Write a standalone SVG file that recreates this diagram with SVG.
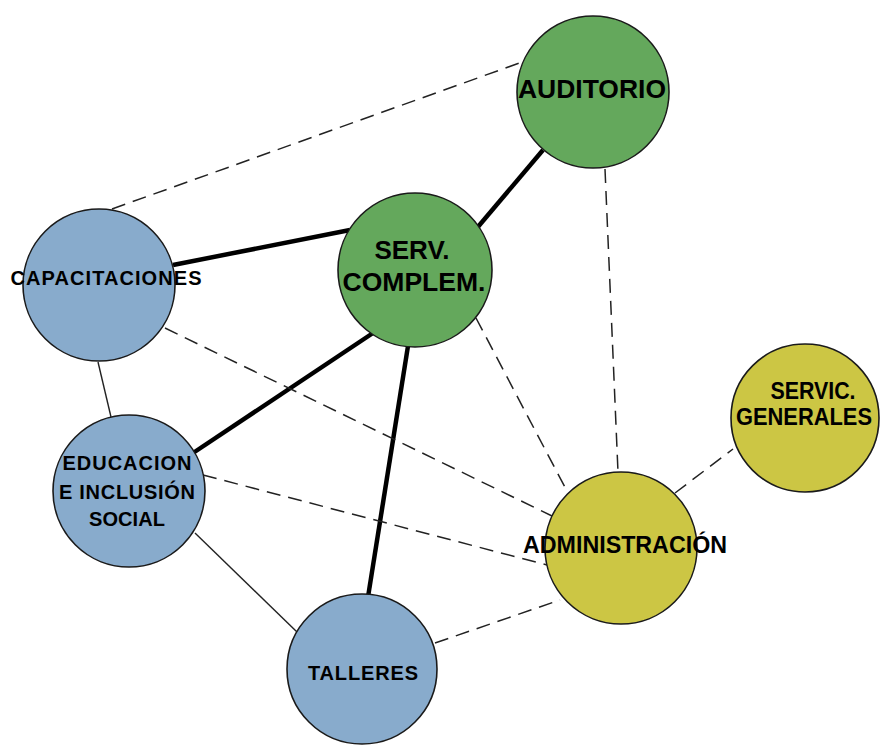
<svg xmlns="http://www.w3.org/2000/svg" width="881" height="745" viewBox="0 0 881 745">
<style>
.bg{fill:#ffffff}
.node{stroke:#1a1a1a;stroke-width:1.6}
.green{fill:#64A85C}
.blue{fill:#88ABCC}
.yellow{fill:#CCC644}
.thick{stroke:#000;stroke-width:4.5;fill:none}
.thin{stroke:#222;stroke-width:1.4;fill:none}
.dash{stroke:#222;stroke-width:1.5;fill:none;stroke-dasharray:14 8}
.lbl{font-family:"Liberation Sans",Arial,sans-serif;fill:#000;text-anchor:middle}
.b{font-weight:bold}
</style>
<rect class="bg" x="0" y="0" width="881" height="745"/>
<g id="connectors">
<line class="dash" x1="112" y1="209" x2="525" y2="61"/>
<line class="thick" x1="543" y1="150" x2="477" y2="228"/>
<line class="thick" x1="173" y1="265" x2="350" y2="230"/>
<line class="thick" x1="373" y1="333" x2="193" y2="453"/>
<line class="thick" x1="408" y1="346" x2="368" y2="597"/>
<line class="thin" x1="98" y1="362" x2="111" y2="417"/>
<line class="thin" x1="195" y1="533" x2="297" y2="632"/>
<line class="dash" x1="605" y1="169" x2="618" y2="472"/>
<line class="dash" x1="476" y1="318" x2="568" y2="493"/>
<line class="dash" x1="165" y1="328" x2="552" y2="516"/>
<line class="dash" x1="203" y1="475" x2="547" y2="565"/>
<line class="dash" x1="435" y1="643" x2="560" y2="600"/>
<line class="dash" x1="675" y1="493" x2="733" y2="449"/>
</g>
<g id="auditorio">
<circle class="node green" cx="593" cy="92" r="76"/>
<text class="lbl b" x="592" y="98" font-size="26" textLength="148" lengthAdjust="spacingAndGlyphs">AUDITORIO</text>
</g>
<g id="serv-complem">
<circle class="node green" cx="415" cy="270" r="77"/>
<text class="lbl b" x="412" y="259" font-size="26">SERV.</text>
<text class="lbl b" x="414" y="291" font-size="26" textLength="143" lengthAdjust="spacingAndGlyphs">COMPLEM.</text>
</g>
<g id="capacitaciones">
<circle class="node blue" cx="99" cy="285" r="76"/>
<text class="lbl b" x="106" y="285" font-size="20" textLength="191" lengthAdjust="spacing">CAPACITACIONES</text>
</g>
<g id="educacion">
<circle class="node blue" cx="129" cy="491" r="76"/>
<text class="lbl b" x="127" y="470" font-size="20" textLength="129" lengthAdjust="spacing">EDUCACION</text>
<text class="lbl b" x="127" y="499" font-size="20" textLength="136" lengthAdjust="spacing">E INCLUSIÓN</text>
<text class="lbl b" x="127" y="526" font-size="20" textLength="76" lengthAdjust="spacing">SOCIAL</text>
</g>
<g id="talleres">
<circle class="node blue" cx="362" cy="669" r="75"/>
<text class="lbl b" x="363" y="680" font-size="20" textLength="110" lengthAdjust="spacing">TALLERES</text>
</g>
<g id="administracion">
<circle class="node yellow" cx="621" cy="548" r="76"/>
<text class="lbl b" x="625" y="553" font-size="24" textLength="204" lengthAdjust="spacingAndGlyphs">ADMINISTRACIÓN</text>
</g>
<g id="servic-generales">
<circle class="node yellow" cx="805" cy="418" r="74"/>
<text class="lbl b" x="813" y="399" font-size="24" textLength="85" lengthAdjust="spacingAndGlyphs">SERVIC.</text>
<text class="lbl b" x="804" y="425" font-size="23" textLength="136" lengthAdjust="spacingAndGlyphs">GENERALES</text>
</g>
</svg>
